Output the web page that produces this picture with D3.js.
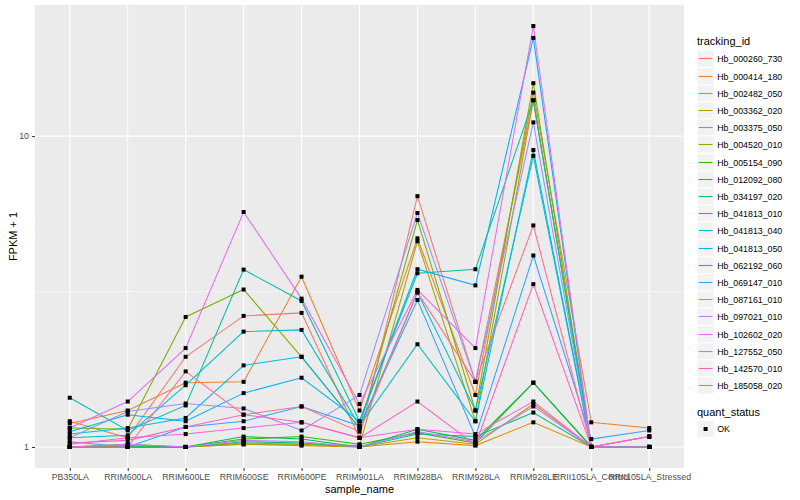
<!DOCTYPE html>
<html>
<head>
<meta charset="utf-8">
<script src="https://cdn.jsdelivr.net/npm/d3@7"></script>
<style>
  body { margin: 0; background: #fff; }
  text { font-family: "Liberation Sans", Arial, Helvetica, sans-serif; }
</style>
</head>
<body>
<div id="chart"></div>
<script>
// x categories
var samples = ["PB350LA", "RRIM600LA", "RRIM600LE", "RRIM600SE", "RRIM600PE", "RRIM901LA",
  "RRIM928BA", "RRIM928LA", "RRIM928LE", "RRII105LA_Control", "RRII105LA_Stressed"];

var trackingIds = ["Hb_000260_730", "Hb_000414_180", "Hb_002482_050", "Hb_003362_020", "Hb_003375_050",
  "Hb_004520_010", "Hb_005154_090", "Hb_012092_080", "Hb_034197_020", "Hb_041813_010",
  "Hb_041813_040", "Hb_041813_050", "Hb_062192_060", "Hb_069147_010", "Hb_087161_010",
  "Hb_097021_010", "Hb_102602_020", "Hb_127552_050", "Hb_142570_010", "Hb_185058_020"];

// FPKM + 1 per gene, one value per sample
var hb_000260_730 = [1.21, 1.07, 1.95, 2.64, 2.70, 1.07, 6.41, 1.62, 13.05, 1.00, 1.00];
var hb_000414_180 = [1.19, 1.31, 1.61, 1.62, 3.53, 1.31, 4.69, 1.47, 13.8, 1.20, 1.15];
var hb_002482_050 = [1.00, 1.00, 1.00, 1.02, 1.01, 1.00, 1.04, 1.01, 1.20, 1.00, 1.00];
var hb_003362_020 = [1.00, 1.00, 1.00, 1.03, 1.02, 1.00, 1.07, 1.02, 1.375, 1.00, 1.00];
var hb_003375_050 = [1.00, 1.01, 1.00, 1.02, 1.02, 1.01, 4.59, 1.21, 13.05, 1.00, 1.00];
var hb_004520_010 = [1.15, 1.14, 2.62, 3.21, 1.95, 1.15, 5.37, 1.31, 14.8, 1.00, 1.00];
var hb_005154_090 = [1.00, 1.02, 1.00, 1.06, 1.08, 1.02, 1.11, 1.03, 1.61, 1.00, 1.00];
var hb_012092_080 = [1.00, 1.00, 1.00, 1.08, 1.06, 1.00, 1.14, 1.05, 1.61, 1.00, 1.00];
var hb_034197_020 = [1.00, 1.00, 1.00, 1.04, 1.03, 1.00, 1.10, 1.08, 1.29, 1.00, 1.00];
var hb_041813_010 = [1.44, 1.13, 1.36, 3.72, 2.95, 1.21, 3.62, 3.73, 13.05, 1.00, 1.00];
var hb_041813_040 = [1.07, 1.09, 1.58, 2.35, 2.38, 1.17, 2.14, 1.21, 9.02, 1.00, 1.00];
var hb_041813_050 = [1.10, 1.15, 1.24, 1.83, 1.95, 1.15, 3.14, 1.31, 8.64, 1.00, 1.00];
var hb_062192_060 = [1.12, 1.27, 1.21, 1.49, 1.67, 1.21, 3.73, 3.31, 20.7, 1.00, 1.00];
var hb_069147_010 = [1.04, 1.00, 1.16, 1.21, 1.35, 1.17, 2.97, 1.08, 4.13, 1.06, 1.13];
var hb_087161_010 = [1.07, 1.30, 1.38, 1.33, 1.13, 1.47, 5.66, 1.62, 11.07, 1.00, 1.00];
var hb_097021_010 = [1.00, 1.02, 1.00, 1.05, 1.04, 1.00, 1.12, 1.04, 1.35, 1.00, 1.08];
var hb_102602_020 = [1.15, 1.40, 2.08, 5.70, 3.00, 1.375, 3.20, 2.08, 22.6, 1.00, 1.08];
var hb_127552_050 = [1.02, 1.07, 1.10, 1.15, 1.20, 1.07, 1.14, 1.10, 1.40, 1.00, 1.08];
var hb_142570_010 = [1.03, 1.05, 1.16, 1.27, 1.20, 1.07, 1.40, 1.015, 3.34, 1.00, 1.08];
var hb_185058_020 = [1.00, 1.00, 1.75, 1.27, 1.35, 1.12, 3.14, 1.62, 5.16, 1.00, 1.00];

var seriesValues = [hb_000260_730, hb_000414_180, hb_002482_050, hb_003362_020, hb_003375_050,
  hb_004520_010, hb_005154_090, hb_012092_080, hb_034197_020, hb_041813_010,
  hb_041813_040, hb_041813_050, hb_062192_060, hb_069147_010, hb_087161_010,
  hb_097021_010, hb_102602_020, hb_127552_050, hb_142570_010, hb_185058_020];

var yMajorTicks = [1, 10];
var yMinorTicks = [Math.sqrt(10)];

// ggplot default hue palette, 20 levels
var palette = ["#F8766D", "#EA8331", "#D89000", "#C09B00", "#A3A500", "#7CAE00", "#39B600",
  "#00BB4E", "#00BF7D", "#00C1A3", "#00BFC4", "#00BAE0", "#00B0F6", "#35A2FF", "#9590FF",
  "#C77CFF", "#E76BF3", "#FA62DB", "#FF62BC", "#FF6C91"];

var svgWidth = 800, svgHeight = 500;
var panel = { left: 35, right: 684, top: 5, bottom: 468 };

var svg = d3.select("#chart").append("svg")
  .attr("width", svgWidth)
  .attr("height", svgHeight);

svg.append("rect").attr("width", svgWidth).attr("height", svgHeight).attr("fill", "#fff");

// scales
var x = d3.scalePoint()
  .domain(samples)
  .range([panel.left, panel.right])
  .padding(0.6);

var allVals = seriesValues.flat();
var lo = Math.log10(d3.min(allVals)), hi = Math.log10(d3.max(allVals));
var ex = (hi - lo) * 0.05;
var y = d3.scaleLog()
  .domain([Math.pow(10, lo - ex), Math.pow(10, hi + ex)])
  .range([panel.bottom, panel.top]);

var color = d3.scaleOrdinal().domain(trackingIds).range(palette);

// panel background + grid
svg.append("rect")
  .attr("x", panel.left).attr("y", panel.top)
  .attr("width", panel.right - panel.left).attr("height", panel.bottom - panel.top)
  .attr("fill", "#EBEBEB");

var grid = svg.append("g");
grid.selectAll(".minor").data(yMinorTicks).enter().append("line")
  .attr("x1", panel.left).attr("x2", panel.right)
  .attr("y1", d => y(d)).attr("y2", d => y(d))
  .attr("stroke", "#fff").attr("stroke-width", 0.55);
grid.selectAll(".major").data(yMajorTicks).enter().append("line")
  .attr("x1", panel.left).attr("x2", panel.right)
  .attr("y1", d => y(d)).attr("y2", d => y(d))
  .attr("stroke", "#fff").attr("stroke-width", 1.1);
grid.selectAll(".vx").data(samples).enter().append("line")
  .attr("x1", d => x(d)).attr("x2", d => x(d))
  .attr("y1", panel.top).attr("y2", panel.bottom)
  .attr("stroke", "#fff").attr("stroke-width", 1.1);

// lines
var line = d3.line()
  .x((d, i) => x(samples[i]))
  .y(d => y(d));

var chartGroup = svg.append("g");
chartGroup.selectAll(".series").data(seriesValues).enter().append("path")
  .attr("d", d => line(d))
  .attr("fill", "none")
  .attr("stroke", (d, i) => color(trackingIds[i]))
  .attr("stroke-width", 1.05);

// points
var pts = [];
seriesValues.forEach(vals => vals.forEach((v, i) => pts.push({ s: samples[i], v: v })));
chartGroup.selectAll(".pt").data(pts).enter().append("rect")
  .attr("x", d => x(d.s) - 2)
  .attr("y", d => y(d.v) - 2)
  .attr("width", 4).attr("height", 4)
  .attr("fill", "#000");

// axes
var bottomAxis = d3.axisBottom(x).tickSize(3).tickPadding(3);
var leftAxis = d3.axisLeft(y).tickValues(yMajorTicks).tickFormat(d3.format("d")).tickSize(3).tickPadding(3);

var gx = svg.append("g")
  .attr("transform", `translate(0, ${panel.bottom})`)
  .call(bottomAxis);
var gy = svg.append("g")
  .attr("transform", `translate(${panel.left}, 0)`)
  .call(leftAxis);

[gx, gy].forEach(g => {
  g.select(".domain").remove();
  g.selectAll(".tick line").attr("stroke", "#333333").attr("stroke-width", 1.05);
  g.selectAll(".tick text").attr("fill", "#4D4D4D").attr("font-size", "8.8px")
    .style("font-family", "'Liberation Sans', Arial, sans-serif");
});

// axis titles
svg.append("text")
  .attr("x", (panel.left + panel.right) / 2)
  .attr("y", 493)
  .attr("text-anchor", "middle")
  .attr("font-size", "11px")
  .text("sample_name");

svg.append("text")
  .attr("transform", `translate(17, ${(panel.top + panel.bottom) / 2}) rotate(-90)`)
  .attr("text-anchor", "middle")
  .attr("font-size", "11px")
  .text("FPKM + 1");

// legends
var legend = svg.append("g");
var keyX = 697, keySize = 17.2, row0 = 58.3;

legend.append("text")
  .attr("x", keyX).attr("y", 44.5)
  .attr("font-size", "11px")
  .text("tracking_id");

var rows = legend.selectAll(".row").data(trackingIds).enter().append("g")
  .attr("transform", (d, i) => `translate(${keyX}, ${Math.round(row0 + i * keySize) + 0.5})`);
rows.append("rect")
  .attr("x", 0).attr("y", -keySize / 2)
  .attr("width", keySize).attr("height", keySize)
  .attr("fill", "#F2F2F2").attr("stroke", "#fff").attr("stroke-width", 1);
rows.append("line")
  .attr("x1", 1.7).attr("x2", keySize - 1.7)
  .attr("y1", 0).attr("y2", 0)
  .attr("stroke", d => color(d)).attr("stroke-width", 1.1);
rows.append("text")
  .attr("x", keySize + 3).attr("y", 0).attr("dy", "0.35em")
  .attr("font-size", "8.8px")
  .text(d => d);

legend.append("text")
  .attr("x", keyX).attr("y", 416)
  .attr("font-size", "11px")
  .text("quant_status");

var okRow = legend.append("g").attr("transform", `translate(${keyX}, 429)`);
okRow.append("rect")
  .attr("x", 0).attr("y", -keySize / 2)
  .attr("width", keySize).attr("height", keySize)
  .attr("fill", "#F2F2F2").attr("stroke", "#fff");
okRow.append("rect")
  .attr("x", keySize / 2 - 2).attr("y", -2)
  .attr("width", 4).attr("height", 4)
  .attr("fill", "#000");
okRow.append("text")
  .attr("x", keySize + 3).attr("y", 0).attr("dy", "0.35em")
  .attr("font-size", "8.8px")
  .text("OK");
</script>
</body>
</html>
